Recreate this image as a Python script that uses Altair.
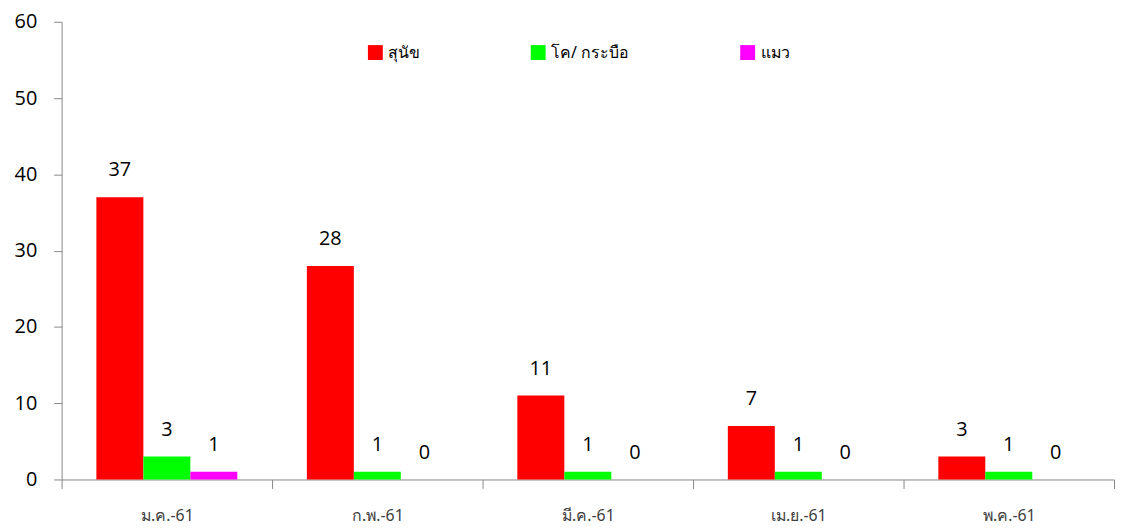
import altair as alt
import pandas as pd

months = ["ม.ค.-61", "ก.พ.-61", "มี.ค.-61", "เม.ย.-61", "พ.ค.-61"]
series = ["สุนัข", "โค/ กระบือ", "แมว"]
dog = [37, 28, 11, 7, 3]
cattle = [3, 1, 1, 1, 1]
cat = [1, 0, 0, 0, 0]
colors = ["#FF0000", "#00FF00", "#FF00FF"]
y_ticks = [0, 10, 20, 30, 40, 50, 60]

rows = []
for i, m in enumerate(months):
    for s, vals in zip(series, [dog, cattle, cat]):
        rows.append({"month": m, "series": s, "value": vals[i]})
df = pd.DataFrame(rows)

x = alt.X("month:N", sort=months, title=None,
          scale=alt.Scale(paddingInner=0, paddingOuter=0),
          axis=alt.Axis(tickBand="extent", labelAngle=0, labelFontSize=16,
                        labelColor="#404040", labelFont="Tahoma, Noto Sans",
                        domainColor="#888888", tickColor="#888888",
                        tickSize=9, labelPadding=19))
xo = alt.XOffset("series:N", sort=series,
                 scale=alt.Scale(paddingInner=0, paddingOuter=0.74))
y = alt.Y("value:Q", title=None,
          scale=alt.Scale(domain=[0, 60], nice=False),
          axis=alt.Axis(values=y_ticks, grid=False, labelFontSize=20,
                        labelColor="#000000", labelFont="Open Sans",
                        domainColor="#888888", tickColor="#888888",
                        tickSize=8, labelPadding=17))

bars = alt.Chart(df).mark_bar().encode(
    x=x, xOffset=xo, y=y,
    color=alt.Color("series:N", sort=series,
                    scale=alt.Scale(domain=series, range=colors),
                    legend=alt.Legend(title=None, orient="none", direction="horizontal",
                                      legendX=308, legendY=23, symbolType="square",
                                      symbolSize=225, symbolStrokeWidth=0,
                                      labelFontSize=16, labelFont="Tahoma, Noto Sans",
                                      labelColor="#000000", columnPadding=111,
                                      labelOffset=5)),
)

labels = alt.Chart(df).mark_text(fontSize=20, font="Open Sans", color="#000000",
                                 baseline="middle", dy=-27).encode(
    x=x, xOffset=xo, y=y, text="value:Q"
)

chart = alt.layer(bars, labels).properties(
    width=1060, height=461,
    autosize=alt.AutoSizeParams(type="none"),
    padding={"left": 54, "top": 12, "right": 4, "bottom": 47},
).configure_view(stroke=None)

chart.save("out.html", embed_options={"renderer": "svg", "actions": False})
